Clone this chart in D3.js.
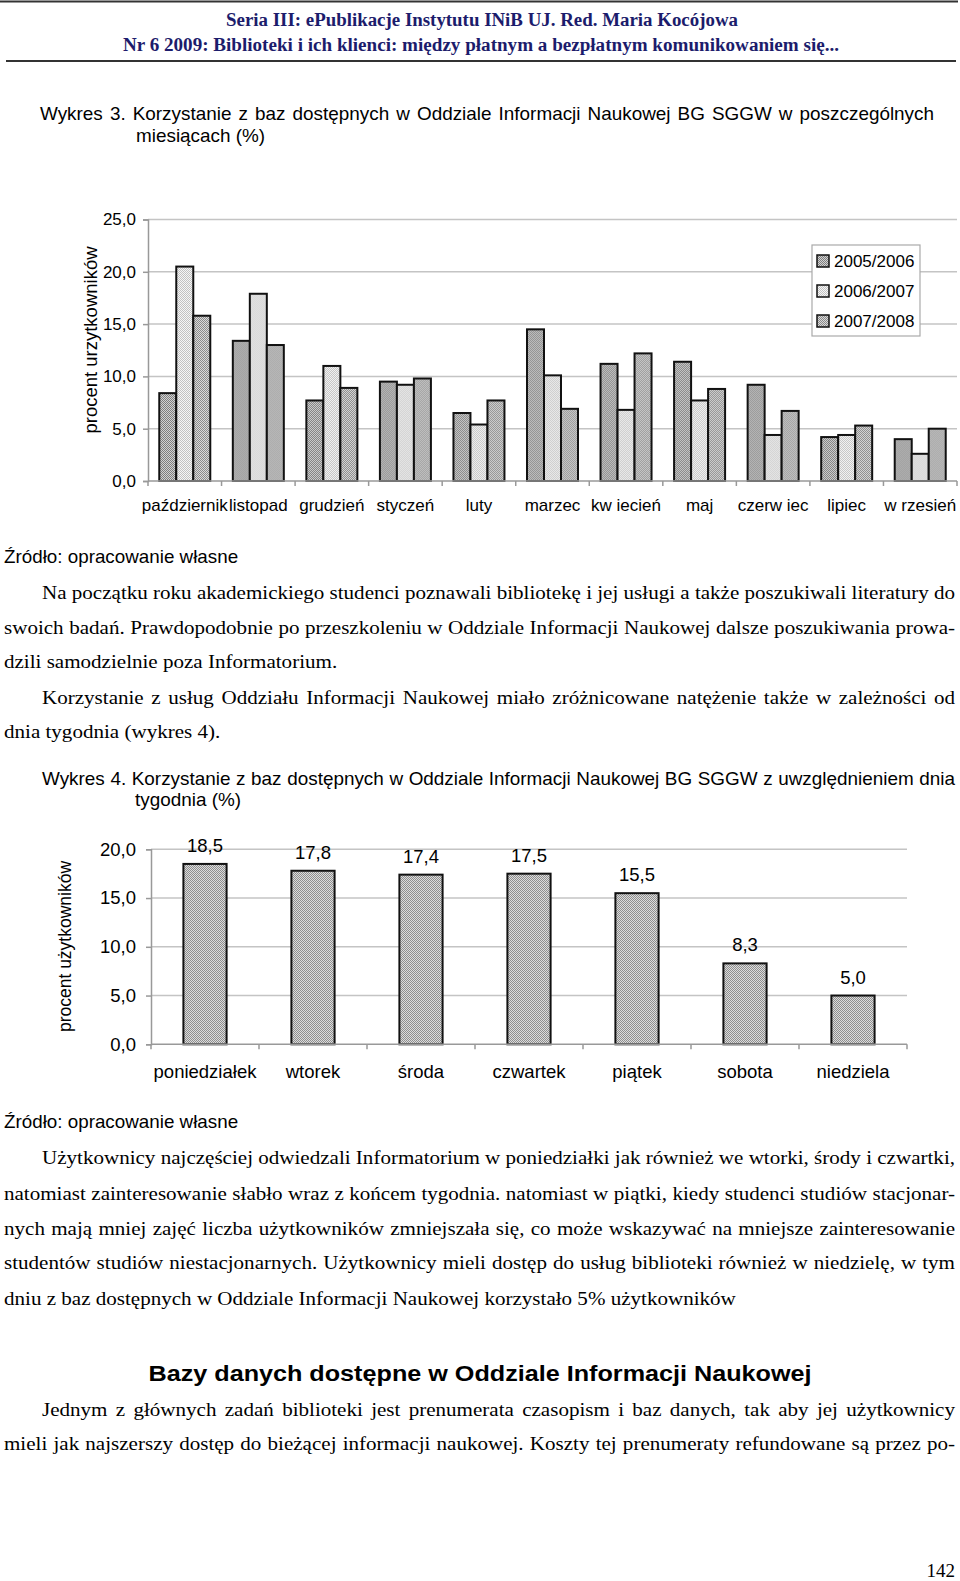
<!DOCTYPE html>
<html>
<head>
<meta charset="utf-8">
<script src="https://cdn.jsdelivr.net/npm/d3@7"></script>
<style>
  html, body { margin: 0; padding: 0; background: #fff; }
  svg { display: block; }
</style>
</head>
<body>
<script>
// ---------------- DATA ----------------
const months = ["październik","listopad","grudzień","styczeń","luty","marzec","kw iecień","maj","czerw iec","lipiec","w rzesień"];
const seriesNames = ["2005/2006","2006/2007","2007/2008"];
const s0506 = [8.4, 13.4, 7.7, 9.5, 6.5, 14.5, 11.2, 11.4, 9.2, 4.2, 4.0];
const s0607 = [20.5, 17.9, 11.0, 9.2, 5.4, 10.1, 6.8, 7.7, 4.4, 4.4, 2.6];
const s0708 = [15.8, 13.0, 8.9, 9.8, 7.7, 6.9, 12.2, 8.8, 6.7, 5.3, 5.0];
const ticks1 = [0, 5, 10, 15, 20, 25];

const days = ["poniedziałek","wtorek","środa","czwartek","piątek","sobota","niedziela"];
const dayValues = [18.5, 17.8, 17.4, 17.5, 15.5, 8.3, 5.0];
const ticks2 = [0, 5, 10, 15, 20];

const header = ["Seria III: ePublikacje Instytutu INiB UJ. Red. Maria Kocójowa",
                "Nr 6  2009: Biblioteki i ich klienci: między płatnym a bezpłatnym komunikowaniem się..."];
const title3 = ["Wykres 3. Korzystanie z baz dostępnych w Oddziale Informacji Naukowej BG SGGW w poszczególnych",
                "miesiącach (%)"];
const title4 = ["Wykres 4. Korzystanie z baz dostępnych w Oddziale Informacji Naukowej BG SGGW z uwzględnieniem dnia",
                "tygodnia (%)"];
const source = "Źródło: opracowanie własne";
const para1 = ["Na początku roku akademickiego studenci poznawali bibliotekę i jej usługi a także poszukiwali literatury do",
               "swoich badań. Prawdopodobnie po przeszkoleniu w Oddziale Informacji Naukowej dalsze poszukiwania prowa-",
               "dzili samodzielnie poza Informatorium.",
               "Korzystanie z usług Oddziału Informacji Naukowej miało zróżnicowane natężenie także w zależności od",
               "dnia tygodnia (wykres 4)."];
const para2 = ["Użytkownicy najczęściej odwiedzali Informatorium w poniedziałki jak również we wtorki, środy i czwartki,",
               "natomiast zainteresowanie słabło wraz z końcem tygodnia. natomiast w piątki, kiedy studenci studiów stacjonar-",
               "nych mają mniej zajęć liczba użytkowników zmniejszała się, co może wskazywać na mniejsze zainteresowanie",
               "studentów studiów niestacjonarnych. Użytkownicy mieli dostęp do usług biblioteki również w niedzielę, w tym",
               "dniu z baz dostępnych w Oddziale Informacji Naukowej korzystało 5% użytkowników"];
const heading = "Bazy danych dostępne w Oddziale Informacji Naukowej";
const para3 = ["Jednym z głównych zadań biblioteki jest prenumerata czasopism i baz danych, tak aby jej użytkownicy",
               "mieli jak najszerszy dostęp do bieżącej informacji naukowej. Koszty tej prenumeraty refundowane są przez po-"];
const pageNo = "142";

// ---------------- SETUP ----------------
const W = 960, H = 1581;
const svg = d3.select("body").append("svg").attr("width", W).attr("height", H);
const SERIF = "'Liberation Serif','Times New Roman',Times,serif";
const SANS = "'Liberation Sans',Arial,Helvetica,sans-serif";
const fmt = v => d3.format(".1f")(v).replace(".", ",");

// patterns
const defs = svg.append("defs");
function dither(id, dark, light) {
  const p = defs.append("pattern").attr("id", id).attr("patternUnits", "userSpaceOnUse")
    .attr("width", 2).attr("height", 2);
  p.append("rect").attr("width", 2).attr("height", 2).attr("fill", light);
  p.append("rect").attr("x", 0).attr("y", 0).attr("width", 1).attr("height", 1).attr("fill", dark);
  p.append("rect").attr("x", 1).attr("y", 1).attr("width", 1).attr("height", 1).attr("fill", dark);
}
dither("pA", "#7e7e7e", "#d2d2d2");
dither("pB", "#c2c2c2", "#f6f6f6");
dither("pC", "#8a8a8a", "#dadada");
dither("pD", "#8e8e8e", "#dcdcdc");
const seriesFill = ["url(#pA)", "url(#pB)", "url(#pC)"];

// text helper
function line(str, o) {
  const t = svg.append("text")
    .attr("transform", `translate(${o.x},${o.y}) scale(${o.sx || 1},1)`)
    .attr("font-family", o.family).attr("font-size", o.size)
    .attr("font-weight", o.weight || "normal")
    .attr("fill", o.fill || "#000")
    .attr("text-anchor", o.anchor || "start")
    .text(str);
  if (o.justifyTo) {
    const w = t.node().getComputedTextLength();
    const n = (str.match(/ /g) || []).length;
    if (n) t.attr("word-spacing", ((o.justifyTo - o.x) / (o.sx || 1) - w) / n);
  }
  if (o.fitWidth) {
    t.attr("textLength", o.fitWidth / (o.sx || 1)).attr("lengthAdjust", "spacingAndGlyphs");
  }
  return t;
}

// ---------------- HEADER ----------------
svg.append("line").attr("x1", 0).attr("x2", 958).attr("y1", 1.5).attr("y2", 1.5)
  .attr("stroke", "#333").attr("stroke-width", 2);
svg.append("line").attr("x1", 6).attr("x2", 956).attr("y1", 61).attr("y2", 61)
  .attr("stroke", "#333").attr("stroke-width", 2);
line(header[0], {x: 482, y: 26, family: SERIF, size: 18, weight: "bold", fill: "#1c1c6c", anchor: "middle", fitWidth: 512});
line(header[1], {x: 481, y: 51, family: SERIF, size: 18, weight: "bold", fill: "#1c1c6c", anchor: "middle", fitWidth: 716});

// ---------------- TEXT BLOCKS ----------------
const TS = {family: SANS, size: 17.5, sx: 1.08};
const PS = {family: SERIF, size: 18, sx: 1.17};
const RIGHT = 955;

line(title3[0], {...TS, x: 40, y: 120, justifyTo: 934});
line(title3[1], {...TS, x: 136, y: 142});

line(source, {family: SANS, size: 17.5, sx: 1.075, x: 4, y: 563});
const p1y = [599, 634, 668, 704, 738];
const p1x = [42, 4, 4, 42, 4];
const p1j = [true, true, false, true, false];
para1.forEach((s, i) => line(s, {...PS, x: p1x[i], y: p1y[i], justifyTo: p1j[i] ? RIGHT : null}));

line(title4[0], {...TS, x: 42, y: 785, justifyTo: RIGHT});
line(title4[1], {...TS, x: 135, y: 806});

line(source, {family: SANS, size: 17.5, sx: 1.075, x: 4, y: 1128});
const p2y = [1164, 1200, 1235, 1269, 1305];
const p2x = [42, 4, 4, 4, 4];
const p2j = [true, true, true, true, false];
para2.forEach((s, i) => line(s, {...PS, x: p2x[i], y: p2y[i], justifyTo: p2j[i] ? RIGHT : null}));

line(heading, {family: SANS, size: 22, weight: "bold", x: 480, y: 1381, anchor: "middle", fitWidth: 663});

const p3y = [1416, 1450];
const p3x = [42, 4];
para3.forEach((s, i) => line(s, {...PS, x: p3x[i], y: p3y[i], justifyTo: RIGHT}));

line(pageNo, {...PS, x: 955, y: 1577, anchor: "end", sx: 1.0, size: 19});

// ---------------- CHART 1 ----------------
(function () {
  const left = 148, right = 957, top = 219.5, bottom = 481;
  const x0 = d3.scaleBand().domain(months).range([left, right]).padding(0);
  const x1 = d3.scaleBand().domain(seriesNames).range([0, x0.bandwidth()])
    .paddingInner(0).paddingOuter(0.663);
  const y = d3.scaleLinear().domain([0, 25]).range([bottom, top]);
  const g = svg.append("g");

  // gridlines
  g.selectAll("line.grid").data(ticks1.filter(d => d > 0)).join("line")
    .attr("x1", left).attr("x2", right)
    .attr("y1", d => y(d)).attr("y2", d => y(d))
    .attr("stroke", "#c4c4c4").attr("stroke-width", 1.5);

  // y axis
  const ya = g.append("g").attr("transform", `translate(${left},0)`)
    .call(d3.axisLeft(y).tickValues(ticks1).tickSize(5).tickPadding(7).tickFormat(fmt));
  ya.select(".domain").attr("stroke", "#999").attr("stroke-width", 1.5);
  ya.selectAll(".tick line").attr("stroke", "#999").attr("stroke-width", 1.5);
  ya.selectAll(".tick text").attr("font-family", SANS).attr("font-size", 17).attr("fill", "#000");

  // bars
  const series = [s0506, s0607, s0708];
  const grp = g.selectAll("g.m").data(months).join("g")
    .attr("transform", d => `translate(${x0(d)},0)`);
  grp.selectAll("rect").data((m, i) => series.map((s, j) => ({name: seriesNames[j], v: s[i], j})))
    .join("rect")
    .attr("x", d => x1(d.name)).attr("width", x1.bandwidth())
    .attr("y", d => y(d.v)).attr("height", d => y(0) - y(d.v))
    .attr("fill", d => seriesFill[d.j]).attr("stroke", "#111").attr("stroke-width", 2);

  // x axis
  g.append("line").attr("x1", left).attr("x2", right).attr("y1", bottom).attr("y2", bottom)
    .attr("stroke", "#999").attr("stroke-width", 1.5);
  const bounds = months.map(m => x0(m)).concat([right]);
  g.selectAll("line.xt").data(bounds).join("line")
    .attr("x1", d => d).attr("x2", d => d).attr("y1", bottom).attr("y2", bottom + 5)
    .attr("stroke", "#999").attr("stroke-width", 1.5);
  g.selectAll("text.xl").data(months).join("text")
    .attr("x", d => x0(d) + x0.bandwidth() / 2).attr("y", 511)
    .attr("text-anchor", "middle").attr("font-family", SANS).attr("font-size", 17)
    .text(d => d);

  // y title
  g.append("text").attr("transform", `translate(97,340) rotate(-90)`)
    .attr("text-anchor", "middle").attr("font-family", SANS).attr("font-size", 18.5)
    .text("procent urzytkowników");

  // legend
  const lg = g.append("g");
  lg.append("rect").attr("x", 812).attr("y", 245).attr("width", 108).attr("height", 91)
    .attr("fill", "#fff").attr("stroke", "#aaa").attr("stroke-width", 1.2);
  const ly = d3.scalePoint().domain(seriesNames).range([261, 321]);
  lg.selectAll("rect.sw").data(seriesNames).join("rect")
    .attr("x", 817).attr("y", d => ly(d) - 6).attr("width", 12).attr("height", 12)
    .attr("fill", (d, i) => seriesFill[i]).attr("stroke", "#111").attr("stroke-width", 1.5);
  lg.selectAll("text").data(seriesNames).join("text")
    .attr("x", 834).attr("y", d => ly(d)).attr("dy", "0.35em")
    .attr("font-family", SANS).attr("font-size", 17).text(d => d);
})();

// ---------------- CHART 2 ----------------
(function () {
  const left = 151, right = 907, top = 849.3, bottom = 1044.3;
  const x = d3.scaleBand().domain(days).range([left, right]).paddingInner(0.6).paddingOuter(0.3);
  const y = d3.scaleLinear().domain([0, 20]).range([bottom, top]);
  const g = svg.append("g");
  const step = x.step();

  g.selectAll("line.grid").data(ticks2.filter(d => d > 0)).join("line")
    .attr("x1", left).attr("x2", right)
    .attr("y1", d => y(d)).attr("y2", d => y(d))
    .attr("stroke", "#c4c4c4").attr("stroke-width", 1.5);

  const ya = g.append("g").attr("transform", `translate(${left},0)`)
    .call(d3.axisLeft(y).tickValues(ticks2).tickSize(5).tickPadding(10).tickFormat(fmt));
  ya.select(".domain").attr("stroke", "#999").attr("stroke-width", 1.5);
  ya.selectAll(".tick line").attr("stroke", "#999").attr("stroke-width", 1.5);
  ya.selectAll(".tick text").attr("font-family", SANS).attr("font-size", 18.5).attr("fill", "#000");

  g.selectAll("rect.bar").data(days).join("rect")
    .attr("x", d => x(d)).attr("width", x.bandwidth())
    .attr("y", (d, i) => y(dayValues[i])).attr("height", (d, i) => bottom - y(dayValues[i]))
    .attr("fill", "url(#pD)").attr("stroke", "#111").attr("stroke-width", 2);

  g.selectAll("text.val").data(days).join("text")
    .attr("x", d => x(d) + x.bandwidth() / 2).attr("y", (d, i) => y(dayValues[i]) - 12)
    .attr("text-anchor", "middle").attr("font-family", SANS).attr("font-size", 18.5)
    .text((d, i) => fmt(dayValues[i]));

  g.append("line").attr("x1", left).attr("x2", right).attr("y1", bottom).attr("y2", bottom)
    .attr("stroke", "#999").attr("stroke-width", 1.5);
  const bounds = days.map(d => x(d) - step * 0.3).concat([right]);
  g.selectAll("line.xt").data(bounds).join("line")
    .attr("x1", d => d).attr("x2", d => d).attr("y1", bottom).attr("y2", bottom + 5)
    .attr("stroke", "#999").attr("stroke-width", 1.5);
  g.selectAll("text.xl").data(days).join("text")
    .attr("x", d => x(d) + x.bandwidth() / 2).attr("y", 1078)
    .attr("text-anchor", "middle").attr("font-family", SANS).attr("font-size", 18.5)
    .text(d => d);

  g.append("text").attr("transform", `translate(71,946.5) rotate(-90)`)
    .attr("text-anchor", "middle").attr("font-family", SANS).attr("font-size", 17.5)
    .text("procent użytkowników");
})();
</script>
</body>
</html>
